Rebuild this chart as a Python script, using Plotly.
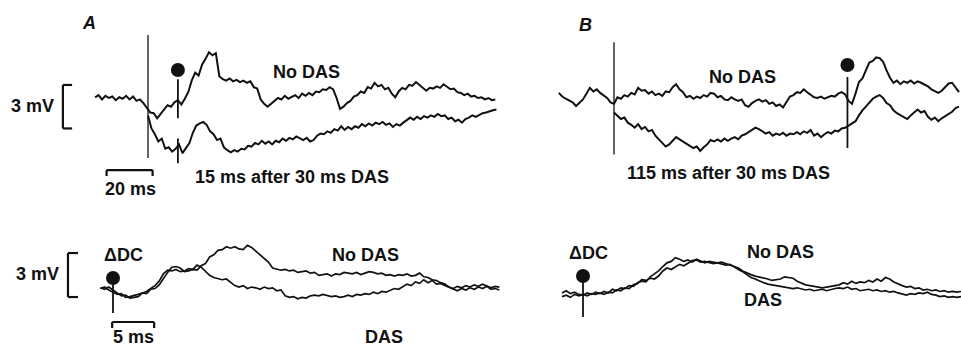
import numpy as np
import plotly.graph_objects as go

# ---------------- data (ms, mV) ----------------
# Panel A, top: sampled every 1.5 ms
A_top_nodas_t0, A_top_nodas_dt = -23.0, 1.5
A_top_nodas = [0.05, 0.2, -0.1, 0.15, 0.0, 0.1, -0.15, 0.05, -0.05, 0.15, -0.1, 0.1, -0.2, -0.1, -0.35,
               -0.7, -1.0, -1.05, -1.4, -1.1, -0.8, -0.5, -0.6, -0.3, -0.15, -0.45, -0.05, 0.4, 1.2, 1.75,
               1.55, 2.3, 2.7, 3.15, 2.95, 3.1, 1.5, 1.3, 1.2, 1.35, 1.15, 1.25, 1.1, 1.2, 1.05,
               1.15, 0.75, 0.65, -0.1, -0.4, -0.6, -0.4, -0.2, 0.0, -0.1, 0.15, -0.05, 0.1, 0.2, 0.0,
               0.3, 0.15, 0.35, 0.2, 0.45, 0.4, 0.6, 0.55, 0.75, 0.6, 0.0, -0.75, -0.6, -0.35, -0.2,
               0.1, 0.2, 0.45, 0.35, 0.75, 0.65, 1.05, 0.8, 0.9, 0.6, 0.7, 0.3, 0.05, 0.45, 0.7,
               0.6, 0.9, 0.85, 1.1, 0.9, 0.7, 0.5, 0.7, 0.65, 0.8, 0.7, 0.95, 0.8, 0.6, 0.65,
               0.4, 0.35, 0.2, 0.3, 0.1, 0.15, 0.0, 0.05, -0.1, 0.0, -0.15, -0.1]
A_top_das_t0, A_top_das_dt = 0.0, 1.5
A_top_das = [-1.2, -2.1, -2.5, -3.0, -2.8, -3.5, -3.4, -3.7, -3.5, -3.2, -3.8, -3.4, -3.1, -2.4, -1.9,
             -1.75, -1.65, -1.85, -2.3, -2.5, -2.9, -2.8, -3.4, -3.6, -3.75, -3.6, -3.7, -3.5, -3.55, -3.3,
             -3.35, -3.1, -3.2, -2.95, -3.15, -3.0, -3.2, -2.95, -3.05, -2.8, -2.95, -2.75, -2.85, -2.65, -2.8,
             -2.9, -2.75, -3.0, -2.9, -2.6, -2.45, -2.5, -2.3, -2.4, -2.15, -2.25, -1.95, -2.2, -2.0, -2.15,
             -1.95, -2.05, -1.8, -1.95, -1.75, -1.9, -1.7, -1.8, -1.65, -1.85, -1.75, -2.0, -1.8, -1.9, -1.7,
             -1.55, -1.35, -1.5, -1.3, -1.45, -1.25, -1.35, -1.2, -1.3, -1.1, -1.25, -1.2, -1.45, -1.35, -1.6,
             -1.5, -1.7, -1.45, -1.35, -1.2, -1.3, -1.15, -1.05, -1.0, -0.9, -0.85, -0.8]

# Panel B, top
B_top_nodas_t0, B_top_nodas_dt = -24.0, 1.5
B_top_nodas = [0.35, 0.1, -0.05, -0.2, -0.3, -0.55, -0.35, -0.1, 0.3, 0.7, 0.45, 0.6, 0.35, 0.2, 0.0,
               -0.3, -0.4, 0.05, -0.05, 0.2, 0.1, 0.35, 0.25, 0.7, 0.5, 0.55, 0.3, 0.45, 0.2, 0.3,
               0.15, 0.45, 0.4, 0.75, 0.95, 0.6, 0.4, 0.05, 0.15, -0.05, 0.1, 0.0, 0.2, 0.1, 0.35,
               0.3, 0.05, 0.15, -0.1, -0.15, 0.05, -0.1, -0.2, -0.1, -0.5, -0.6, -0.35, -0.2, -0.1, -0.25,
               -0.15, -0.4, -0.3, -0.55, -0.45, -0.65, -0.3, 0.1, 0.2, 0.4, 0.35, 0.6, 0.4, 0.25, 0.05,
               0.0, 0.1, -0.05, 0.05, 0.15, 0.1, 0.3, 0.4, 0.25, -0.2, -0.4, 0.3, 1.1, 1.35, 1.9,
               2.45, 2.55, 2.8, 2.75, 2.5, 1.9, 1.4, 1.05, 1.2, 0.95, 1.15, 1.05, 1.2, 1.0, 1.15,
               1.05, 0.95, 0.8, 0.6, 0.45, 0.35, 0.5, 0.75, 1.0, 1.05, 0.7, 0.4]
B_top_das_t0, B_top_das_dt = 0.0, 1.5
B_top_das = [-1.0, -1.25, -1.45, -1.35, -1.7, -1.85, -2.05, -1.8, -2.15, -2.0, -2.3, -2.2, -2.6, -2.85, -3.1,
             -3.35, -3.2, -2.95, -2.7, -2.85, -3.0, -3.15, -3.3, -3.45, -3.35, -3.65, -3.4, -3.2, -2.9, -3.0,
             -2.85, -3.0, -2.8, -2.95, -2.8, -2.7, -2.85, -2.6, -2.5, -2.35, -2.25, -2.05, -2.15, -2.3, -2.45,
             -2.35, -2.6, -2.45, -2.55, -2.4, -2.6, -2.45, -2.5, -2.35, -2.5, -2.3, -2.4, -2.2, -2.6, -2.45,
             -2.7, -2.5, -2.35, -2.45, -2.25, -2.3, -2.1, -2.05, -1.9, -1.75, -1.6, -1.2, -0.85, -0.6, -0.35,
             -0.05, 0.1, 0.2, 0.0, -0.35, -0.5, -0.85, -1.05, -1.2, -1.35, -1.45, -1.2, -1.0, -0.8, -1.0,
             -0.9, -1.3, -1.5, -1.35, -1.6, -1.4, -1.25, -1.1, -0.95, -0.7, -0.6]

# Panel A, bottom (difference, sampled every 0.5 ms)
A_bot_t0, A_bot_dt = -1.5, 0.5
A_bot_nodas = [0.15, 0.05, 0.2, 0.0, -0.2, -0.4, -0.35, -0.55, -0.5, -0.45, -0.2, -0.25, 0.05, 0.1, 0.35,
               0.8, 1.2, 1.55, 1.6, 1.5, 1.25, 1.3, 1.4, 1.35, 1.65, 1.8, 2.25, 2.4, 2.7, 2.75,
               2.95, 2.85, 2.95, 2.8, 2.75, 3.05, 2.9, 2.65, 2.4, 2.1, 1.9, 1.5, 1.4, 1.35, 1.4,
               1.3, 1.35, 1.2, 1.25, 1.3, 1.15, 1.2, 1.0, 1.05, 1.1, 0.95, 1.1, 1.05, 1.2, 1.15,
               1.1, 1.2, 1.05, 1.15, 1.25, 1.2, 1.1, 1.15, 1.0, 1.05, 0.95, 1.05, 1.0, 1.1, 0.95,
               1.0, 1.15, 0.9, 0.85, 0.7, 0.65, 0.5, 0.4, 0.2, 0.1, 0.25, 0.15, 0.3, 0.2, 0.35,
               0.25, 0.4, 0.3, 0.15, 0.25, 0.2]
A_bot_das = [0.1, 0.2, 0.0, -0.15, -0.3, -0.25, -0.5, -0.45, -0.4, -0.3, -0.2, -0.1, 0.1, 0.3, 0.6,
             1.1, 1.35, 1.3, 1.4, 1.25, 1.3, 1.45, 1.4, 1.7, 1.55, 1.25, 1.0, 0.85, 0.8, 0.7,
             0.75, 0.55, 0.3, 0.2, 0.3, 0.1, 0.2, 0.15, 0.05, 0.2, 0.1, 0.15, -0.05, 0.0, -0.4,
             -0.5, -0.45, -0.6, -0.5, -0.55, -0.4, -0.35, -0.4, -0.3, -0.35, -0.45, -0.4, -0.5, -0.45, -0.35,
             -0.45, -0.3, -0.35, -0.25, -0.3, -0.15, -0.25, -0.1, -0.15, 0.0, 0.1, 0.05, 0.25, 0.4, 0.3,
             0.55, 0.45, 0.7, 0.5, 0.65, 0.4, 0.45, 0.3, 0.2, 0.05, -0.05, 0.1, 0.0, 0.15, 0.05,
             0.2, 0.1, 0.25, 0.05, 0.1, 0.0]

# Panel B, bottom
B_bot_t0, B_bot_dt = -2.5, 0.5
B_bot_nodas = [-0.2, -0.05, -0.25, -0.15, -0.3, -0.35, -0.2, -0.3, -0.15, -0.25, -0.1, -0.2, 0.05, -0.05, 0.15,
               0.1, 0.3, 0.25, 0.5, 0.6, 0.55, 0.9, 1.1, 1.3, 1.6, 1.85, 1.95, 2.2, 2.1, 1.95,
               2.05, 1.9, 2.1, 2.0, 1.85, 1.95, 1.9, 1.85, 1.9, 1.8, 1.75, 1.65, 1.5, 1.3, 1.15,
               1.05, 0.95, 0.9, 0.8, 0.75, 0.65, 0.7, 0.75, 0.9, 0.85, 0.8, 0.6, 0.45, 0.35, 0.3,
               0.25, 0.2, 0.15, 0.2, 0.25, 0.3, 0.35, 0.5, 0.4, 0.6, 0.45, 0.55, 0.5, 0.65, 0.55,
               0.75, 0.6, 0.85, 0.75, 0.55, 0.4, 0.3, 0.2, 0.25, 0.1, 0.15, 0.0, 0.05, -0.05, 0.0,
               -0.1, -0.05, -0.15, -0.1, -0.15, -0.1]
B_bot_das = [-0.45, -0.35, -0.5, -0.3, -0.4, -0.3, -0.4, -0.25, -0.3, -0.2, -0.3, -0.15, -0.2, 0.0, -0.05,
             0.15, 0.1, 0.35, 0.45, 0.7, 0.65, 0.8, 0.75, 0.95, 1.3, 1.5, 1.4, 1.6, 1.75, 1.65,
             1.85, 2.0, 2.05, 1.9, 1.95, 1.85, 1.8, 1.85, 1.75, 1.7, 1.75, 1.55, 1.4, 1.25, 1.05,
             0.85, 0.75, 0.6, 0.5, 0.4, 0.35, 0.3, 0.25, 0.2, 0.15, 0.1, 0.15, 0.05, 0.0, 0.05,
             -0.05, 0.0, 0.05, -0.05, 0.05, 0.1, 0.15, 0.1, 0.2, 0.05, 0.1, -0.05, 0.0, 0.05, -0.05,
             0.0, -0.1, -0.05, -0.15, -0.1, -0.2, -0.3, -0.35, -0.25, -0.3, -0.2, -0.25, -0.15, -0.3, -0.35,
             -0.45, -0.4, -0.5, -0.45, -0.5, -0.45]

# event times (ms)
A_stim_t, A_test_t = 0.0, 13.0
B_stim_t, B_test_t = 0.0, 101.5
scale_top_ms, scale_bot_ms, scale_mv = 20, 5, 3

# ---------------- layout helpers ----------------
W, H = 961, 348
INK = "#111111"
FONT = "Liberation Sans, Arial, Helvetica, sans-serif"


def xdom(p0, p1):
    return [p0 / W, p1 / W]


def ydom(p0, p1):  # p0 top pixel, p1 bottom pixel
    return [1 - p1 / H, 1 - p0 / H]


def xr(p0, p1, origin, ppu):
    return [(p0 - origin) / ppu, (p1 - origin) / ppu]


def yr(p0, p1, origin, ppu):
    return [(origin - p1) / ppu, (origin - p0) / ppu]


TOP_PX_MS, BOT_PX_MS = 2.3, 8.4
TOP_PX_MV, BOT_PX_MV = 14.5, 14.67

fig = go.Figure()

axes = {
    "A_top": dict(x="x", y="y"),
    "B_top": dict(x="x2", y="y2"),
    "A_bot": dict(x="x3", y="y3"),
    "B_bot": dict(x="x4", y="y4"),
}


def trace(ax, t0, dt, vals, w=2.0):
    t = t0 + dt * np.arange(len(vals))
    fig.add_trace(go.Scatter(x=t, y=vals, mode="lines", xaxis=axes[ax]["x"], yaxis=axes[ax]["y"],
                             line=dict(color=INK, width=w), showlegend=False, hoverinfo="skip"))


trace("A_top", A_top_nodas_t0, A_top_nodas_dt, A_top_nodas)
trace("A_top", A_top_das_t0, A_top_das_dt, A_top_das)
trace("B_top", B_top_nodas_t0, B_top_nodas_dt, B_top_nodas)
trace("B_top", B_top_das_t0, B_top_das_dt, B_top_das)
trace("A_bot", A_bot_t0, A_bot_dt, A_bot_nodas, 1.7)
trace("A_bot", A_bot_t0, A_bot_dt, A_bot_das, 1.7)
trace("B_bot", B_bot_t0, B_bot_dt, B_bot_nodas, 1.7)
trace("B_bot", B_bot_t0, B_bot_dt, B_bot_das, 1.7)


def dot(ax, t, v):
    fig.add_trace(go.Scatter(x=[t], y=[v], mode="markers", xaxis=axes[ax]["x"], yaxis=axes[ax]["y"],
                             marker=dict(color=INK, size=14), showlegend=False, hoverinfo="skip"))


dot("A_top", A_test_t, 1.93)
dot("B_top", B_test_t, 2.28)
dot("A_bot", 0.0, 0.82)
dot("B_bot", 0.0, 0.95)

shapes = []


def seg(ax, x0, y0, x1, y1, w=1.4):
    shapes.append(dict(type="line", xref=axes[ax]["x"], yref=axes[ax]["y"], x0=x0, y0=y0, x1=x1, y1=y1,
                       line=dict(color=INK, width=w)))


# stimulus lines and stems
seg("A_top", A_stim_t, 4.34, A_stim_t, -4.14, 1.3)
seg("A_top", A_test_t, 1.3, A_test_t, -1.4, 1.8)
seg("A_top", A_test_t, -2.8, A_test_t, -4.5, 1.8)
seg("B_top", B_stim_t, 3.85, B_stim_t, -3.9, 1.3)
seg("B_top", B_test_t, 1.45, B_test_t, -3.45, 1.8)
seg("A_bot", 0.0, 0.82, 0.0, -1.57, 1.8)
seg("B_bot", 0.0, 0.95, 0.0, -1.84, 1.8)

# time scale bars
seg("A_top", -18, -4.97, -18 + scale_top_ms, -4.97, 2.2)
seg("A_top", -18, -4.97, -18, -5.38, 2.2)
seg("A_top", -18 + scale_top_ms, -4.97, -18 + scale_top_ms, -5.38, 2.2)
seg("A_bot", -0.1, -2.18, -0.1 + scale_bot_ms, -2.18, 2.2)
seg("A_bot", -0.1, -2.18, -0.1, -2.59, 2.2)
seg("A_bot", -0.1 + scale_bot_ms, -2.18, -0.1 + scale_bot_ms, -2.59, 2.2)

# 3 mV brackets
seg("A_top", -37, 0.9, -37, 0.9 - scale_mv, 2.2)
seg("A_top", -37, 0.9, -33, 0.9, 2.2)
seg("A_top", -37, 0.9 - scale_mv, -33, 0.9 - scale_mv, 2.2)
seg("A_bot", -5.36, 2.52, -5.36, 2.52 - scale_mv, 2.2)
seg("A_bot", -5.36, 2.52, -4.17, 2.52, 2.2)
seg("A_bot", -5.36, 2.52 - scale_mv, -4.17, 2.52 - scale_mv, 2.2)

ann = []


def label(ax, t, v, text, xanchor="center", size=19, italic=False, bold=False):
    txt = text
    if bold:
        txt = "<b>" + txt + "</b>"
    if italic:
        txt = "<i>" + txt + "</i>"
    ann.append(dict(xref=axes[ax]["x"], yref=axes[ax]["y"], x=t, y=v, text=txt, showarrow=False,
                    xanchor=xanchor, yanchor="middle", font=dict(family=FONT, size=size, color=INK)))


label("A_top", -25.7, 5.17, "A", italic=True, bold=True, size=18)
label("B_top", -12.6, 5.03, "B", italic=True, bold=True, size=18)
label("A_top", 69.1, 1.79, "No DAS", bold=True, size=18)
label("A_top", 62.6, -5.45, "15 ms after 30 ms DAS", bold=True, size=18)
label("A_top", -7.8, -6.28, "20 ms", bold=True, size=18)
label("A_top", -40, -0.55, "3 mV", xanchor="right", bold=True, size=18)
label("B_top", 55.7, 1.45, "No DAS", bold=True, size=18)
label("B_top", 49.6, -5.17, "115 ms after 30 ms DAS", bold=True, size=18)
label("A_bot", 1.3, 2.39, "ΔDC", bold=True, size=18)
label("A_bot", 30.0, 2.39, "No DAS", bold=True, size=18)
label("A_bot", 32.3, -3.2, "DAS", bold=True, size=18)
label("A_bot", 2.4, -3.2, "5 ms", bold=True, size=18)
label("A_bot", -6.2, 1.09, "3 mV", xanchor="right", bold=True, size=18)
label("B_bot", 0.6, 2.52, "ΔDC", bold=True, size=18)
label("B_bot", 23.5, 2.59, "No DAS", bold=True, size=18)
label("B_bot", 21.4, -0.68, "DAS", bold=True, size=18)

hidden = dict(visible=False, showgrid=False, zeroline=False, fixedrange=True)
fig.update_layout(
    width=W, height=H, margin=dict(l=0, r=0, t=0, b=0),
    paper_bgcolor="white", plot_bgcolor="white",
    shapes=shapes, annotations=ann,
    xaxis=dict(domain=xdom(0, 520), range=xr(0, 520, 148, TOP_PX_MS), anchor="y", **hidden),
    yaxis=dict(domain=ydom(5, 205), range=yr(5, 205, 98, TOP_PX_MV), anchor="x", **hidden),
    xaxis2=dict(domain=xdom(530, 961), range=xr(530, 961, 614, TOP_PX_MS), anchor="y2", **hidden),
    yaxis2=dict(domain=ydom(5, 205), range=yr(5, 205, 98, TOP_PX_MV), anchor="x2", **hidden),
    xaxis3=dict(domain=xdom(0, 520), range=xr(0, 520, 113, BOT_PX_MS), anchor="y3", **hidden),
    yaxis3=dict(domain=ydom(215, 348), range=yr(215, 348, 290, BOT_PX_MV), anchor="x3", **hidden),
    xaxis4=dict(domain=xdom(530, 961), range=xr(530, 961, 583, BOT_PX_MS), anchor="y4", **hidden),
    yaxis4=dict(domain=ydom(215, 348), range=yr(215, 348, 290, BOT_PX_MV), anchor="x4", **hidden),
)

fig.write_html("out.html")
